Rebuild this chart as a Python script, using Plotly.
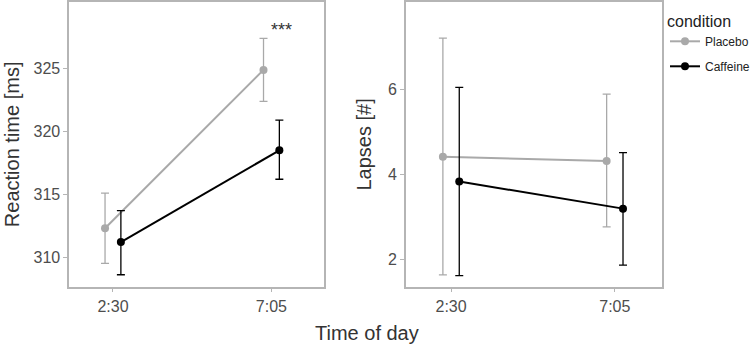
import plotly.graph_objects as go

W, H = 755, 347

# ---- data ----
times = ["2:30", "7:05"]
conditions = ["Placebo", "Caffeine"]

rt_mean = {"Placebo": [312.3, 324.9], "Caffeine": [311.2, 318.5]}
rt_low = {"Placebo": [309.5, 322.4], "Caffeine": [308.6, 316.2]}
rt_high = {"Placebo": [315.1, 327.4], "Caffeine": [313.7, 320.9]}

lapse_mean = {"Placebo": [4.42, 4.32], "Caffeine": [3.84, 3.20]}
lapse_low = {"Placebo": [1.64, 2.77], "Caffeine": [1.62, 1.87]}
lapse_high = {"Placebo": [7.22, 5.90], "Caffeine": [6.06, 4.52]}

sig_label = "***"

# ---- style ----
colors = {"Placebo": "#a9a9a9", "Caffeine": "#000000"}
dodge = {"Placebo": -0.05, "Caffeine": 0.05}
font_family = "Liberation Sans, Arial, sans-serif"
border = "#b5b5b5"
tick_col = "#4d4d4d"

xpos = [i + 1 for i in range(len(times))]

fig = go.Figure()

def add_panel(mean, low, high, xa, ya, show):
    for c in conditions:
        xs = [x + dodge[c] for x in xpos]
        fig.add_trace(go.Scatter(
            x=xs, y=mean[c], mode="lines+markers", name=c,
            xaxis=xa, yaxis=ya, legendgroup=c, showlegend=show,
            line=dict(color=colors[c], width=2),
            marker=dict(color=colors[c], size=8),
            error_y=dict(type="data", symmetric=False,
                         array=[h - m for h, m in zip(high[c], mean[c])],
                         arrayminus=[m - l for m, l in zip(mean[c], low[c])],
                         color=colors[c], thickness=1.3, width=4),
        ))

add_panel(rt_mean, rt_low, rt_high, "x", "y", True)
add_panel(lapse_mean, lapse_low, lapse_high, "x2", "y2", False)

axis_common = dict(showline=True, mirror=True, linecolor=border, linewidth=1.5,
                   showgrid=False, zeroline=False, ticks="outside", ticklen=4,
                   tickcolor=border, tickwidth=1.2,
                   tickfont=dict(size=16, color=tick_col, family=font_family))

fig.update_layout(
    width=W, height=H,
    margin=dict(l=0, r=0, t=0, b=0),
    paper_bgcolor="white", plot_bgcolor="white",
    font=dict(family=font_family, color="#333333"),
    xaxis=dict(domain=[69.5 / W, 325.5 / W], range=[0.724, 2.333], anchor="y",
               tickvals=xpos, ticktext=times, **axis_common),
    yaxis=dict(domain=[1 - 286.7 / H, 1 - 2 / H], range=[307.65, 330.3],
               tickvals=[310, 315, 320, 325], anchor="x",
               title=dict(text="Reaction time [ms]", standoff=9,
                          font=dict(size=20, color="#333333")),
               **axis_common),
    xaxis2=dict(domain=[407.5 / W, 664.3 / W], range=[0.724, 2.286], anchor="y2",
                tickvals=xpos, ticktext=times, **axis_common),
    yaxis2=dict(domain=[1 - 286.7 / H, 1 - 2 / H], range=[1.36, 8.07],
                tickvals=[2, 4, 6], anchor="x2",
                title=dict(text="Lapses [#]", standoff=11,
                           font=dict(size=20, color="#333333")),
                **axis_common),
    legend=dict(x=668 / W, y=1 - 6 / H, xanchor="left", yanchor="top",
                title=dict(text="condition", font=dict(size=16, color="#222222")),
                font=dict(size=12, color="#222222"),
                tracegroupgap=6, itemwidth=30, bgcolor="rgba(0,0,0,0)"),
    annotations=[
        dict(text="Time of day", xref="paper", yref="paper",
             x=368 / W, y=1 - 333 / H, xanchor="center", yanchor="middle",
             showarrow=False, font=dict(size=20, color="#333333")),
        dict(text=sig_label, xref="x", yref="y", x=2.063, y=328.1,
             xanchor="center", yanchor="middle", showarrow=False,
             font=dict(size=18, color="#333333")),
    ],
)

fig.write_html("out.html", config={"displayModeBar": False},
               post_script="document.body.style.margin='0';")
